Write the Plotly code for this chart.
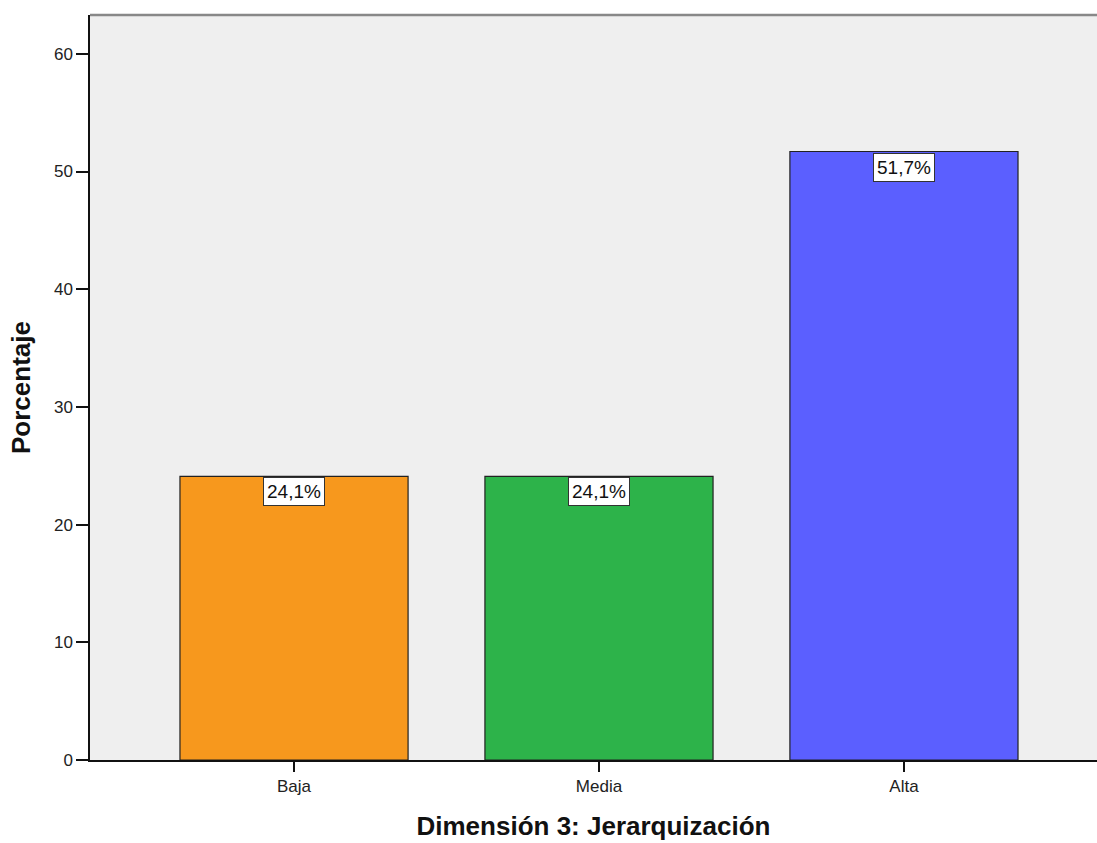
import plotly.graph_objects as go

categories = ["Baja", "Media", "Alta"]
values = [24.1, 24.1, 51.7]
labels = ["24,1%", "24,1%", "51,7%"]
colors = ["#F7981D", "#2DB34A", "#5B5FFF"]

FONT = "Liberation Sans, Arial"

fig = go.Figure()
fig.add_trace(go.Bar(
    x=categories, y=values,
    marker=dict(color=colors, line=dict(color="#222222", width=1.2)),
    width=0.748, showlegend=False, hoverinfo="skip",
))

for c, v, t in zip(categories, values, labels):
    fig.add_annotation(
        x=c, y=v, text=t, showarrow=False, yanchor="top", yshift=-1,
        bgcolor="white", bordercolor="#333333", borderwidth=1, borderpad=3,
        font=dict(family=FONT, size=19, color="#111111"),
    )

fig.add_shape(type="line", xref="paper", yref="paper", x0=0, x1=1, y0=1, y1=1,
              line=dict(color="#888888", width=2.5))

fig.update_layout(
    width=1097, height=843,
    margin=dict(l=90, r=0, t=15, b=83),
    paper_bgcolor="white", plot_bgcolor="#EFEFEF",
    font=dict(family=FONT, color="#222222"),
    xaxis=dict(
        range=[-0.669, 2.633], showgrid=False, zeroline=False,
        showline=True, linecolor="#111111", linewidth=1.5,
        ticks="outside", ticklen=10, tickcolor="#111111", tickwidth=1.5,
        tickfont=dict(size=17, color="#222222"),
        title=dict(text="<b>Dimensión 3: Jerarquización</b>", font=dict(size=26, color="#111111"), standoff=22),
    ),
    yaxis=dict(
        range=[0, 63.3], showgrid=False, zeroline=False,
        showline=True, linecolor="#111111", linewidth=1.5,
        ticks="outside", ticklen=12, tickcolor="#111111", tickwidth=1.5,
        tickvals=[0, 10, 20, 30, 40, 50, 60],
        tickfont=dict(size=17, color="#222222"),
        title=dict(text="<b>Porcentaje</b>", font=dict(size=26, color="#111111"), standoff=16),
    ),
)

fig.write_html(
    "out.html",
    config={"displayModeBar": False},
    post_script="document.body.style.margin='0';document.body.style.padding='0';document.body.style.overflow='hidden';",
)
